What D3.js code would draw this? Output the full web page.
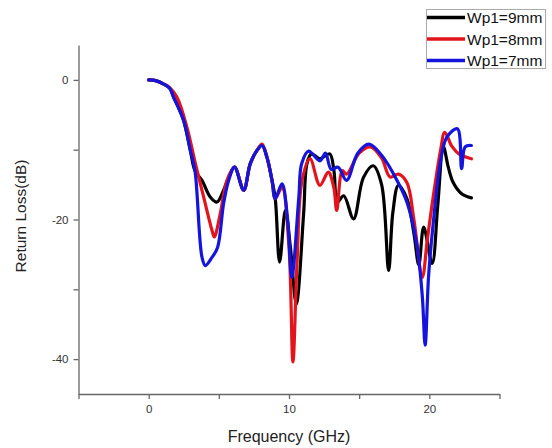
<!DOCTYPE html>
<html>
<head>
<meta charset="utf-8">
<script src="https://cdn.jsdelivr.net/npm/d3@7"></script>
<style>
  body { margin: 0; background: #fff; }
  svg { display: block; }
  text { font-family: "Liberation Sans", Arial, sans-serif; }
</style>
</head>
<body>
<svg id="chart" width="552" height="448"></svg>
<script>
// ---- data ----
const freq9 = [0, 0.5, 1.07, 1.5, 1.78, 2.1, 2.49, 2.97, 3.3, 3.8, 4.4, 4.87, 5.34, 5.7, 6.12, 6.77, 7.24, 7.72, 8.08, 8.43, 8.79, 9.02, 9.33, 9.74, 10.1, 10.52, 11.04, 11.28, 11.6, 12.2, 12.9, 13.2, 13.45, 13.9, 14.6, 15.3, 16.0, 16.6, 17.1, 17.4, 17.8, 18.4, 18.9, 19.25, 19.6, 20.2, 20.6, 21.0, 21.35, 21.7, 22.3, 23.0];
const rl9   = [0, -0.1, -0.6, -1.2, -2.5, -3.8, -5.8, -10.1, -13.0, -14.4, -16.8, -17.5, -15.8, -14.0, -12.5, -15.8, -12.0, -10.1, -9.4, -11.1, -14.4, -17.0, -26.1, -18.7, -24.0, -32.1, -19.2, -12.0, -10.6, -11.3, -10.6, -13.0, -17.5, -16.6, -19.9, -14.0, -12.3, -15.0, -27.3, -19.0, -15.1, -17.0, -22.0, -26.5, -21.1, -26.3, -18.0, -9.6, -12.5, -14.7, -16.3, -16.9];

const freq8 = [0, 0.5, 1.07, 1.5, 2.02, 2.73, 3.33, 3.92, 4.52, 4.68, 5.1, 5.58, 6.12, 6.77, 7.24, 7.72, 8.08, 8.43, 8.79, 9.02, 9.5, 10.0, 10.28, 10.57, 10.93, 11.5, 12.2, 12.8, 13.2, 13.4, 13.8, 14.1, 15.0, 15.8, 16.6, 17.2, 17.8, 18.4, 18.9, 19.5, 19.85, 20.2, 20.8, 21.1, 21.6, 22.1, 23.0];
const rl8   = [0, -0.1, -0.6, -1.1, -2.5, -6.8, -12.0, -16.8, -21.6, -22.5, -19.2, -14.4, -12.5, -15.8, -12.0, -10.1, -9.2, -11.1, -14.4, -17.0, -15.4, -24.0, -40.4, -26.3, -14.4, -11.3, -15.1, -13.2, -15.5, -18.7, -13.0, -13.5, -10.5, -9.6, -11.2, -13.9, -13.5, -14.7, -20.0, -28.3, -23.0, -17.8, -10.1, -7.5, -9.5, -10.6, -11.3];

const freq7 = [0, 0.5, 1.07, 1.5, 1.78, 2.49, 2.97, 3.3, 3.8, 4.04, 4.52, 4.91, 5.34, 5.7, 6.12, 6.77, 7.24, 7.72, 8.08, 8.43, 8.79, 9.02, 9.5, 9.9, 10.2, 10.7, 10.9, 11.4, 12.2, 12.6, 13.0, 13.5, 14.1, 14.9, 15.7, 16.6, 17.7, 18.4, 19.1, 19.5, 19.7, 19.95, 20.3, 20.8, 21.25, 22.0, 22.3, 22.55, 23.0];
const rl7   = [0, -0.1, -0.6, -1.2, -2.5, -5.8, -10.1, -13.0, -25.4, -26.6, -25.4, -24.0, -17.7, -14.4, -12.5, -15.8, -12.0, -10.1, -9.4, -11.1, -14.4, -17.0, -14.9, -20.0, -28.3, -16.8, -12.0, -10.2, -11.6, -10.5, -12.8, -12.5, -14.4, -10.5, -9.2, -10.8, -14.4, -17.5, -23.5, -31.0, -38.0, -28.0, -20.1, -11.6, -8.2, -7.0, -12.7, -9.6, -9.4];

const seriesNames = ["Wp1=9mm", "Wp1=8mm", "Wp1=7mm"];
const seriesColors = ["#000000", "#e3141c", "#1414dc"];
const xTicks = [-5, 0, 5, 10, 15, 20, 25];
const xTickLabels = ["", "0", "", "10", "", "20", ""];
const yTicks = [-40, -30, -20, -10, 0];
const yTickLabels = ["-40", "", "-20", "", "0"];

// ---- layout ----
const svg = d3.select("#chart");
const mLeft = 78.5, mRight = 499.5, mTop = 45, mBottom = 394;

const x = d3.scaleLinear().domain([-5, 25]).range([mLeft, mRight]);
const y = d3.scaleLinear().domain([-45, 5]).range([mBottom, mTop]);

const axisColor = "#666";

// axes
const gx = svg.append("g").attr("transform", `translate(0,${mBottom})`)
  .call(d3.axisBottom(x).tickValues(xTicks)
    .tickFormat((d, i) => xTickLabels[i]).tickSize(5).tickSizeOuter(0).tickPadding(6));
const gy = svg.append("g").attr("transform", `translate(${mLeft},0)`)
  .call(d3.axisLeft(y).tickValues(yTicks)
    .tickFormat((d, i) => yTickLabels[i]).tickSize(5).tickSizeOuter(0).tickPadding(5));

[gx, gy].forEach(g => {
  g.select(".domain").attr("stroke", axisColor).attr("stroke-width", 1.3);
  g.selectAll(".tick line").attr("stroke", axisColor).attr("stroke-width", 1.3);
  g.selectAll(".tick text").attr("fill", "#333").attr("font-size", 11.5)
    .attr("font-family", "'Liberation Sans', Arial, sans-serif");
});

// axis titles
svg.append("text").attr("x", 289).attr("y", 442)
  .attr("text-anchor", "middle").attr("font-size", 16).attr("fill", "#222")
  .text("Frequency (GHz)");
svg.append("text").attr("transform", `translate(26,216) rotate(-90)`)
  .attr("text-anchor", "middle").attr("font-size", 15.5).attr("fill", "#222")
  .text("Return Loss(dB)");

// lines
const series = [
  { f: freq9, v: rl9 },
  { f: freq8, v: rl8 },
  { f: freq7, v: rl7 }
];
const line = d3.line().x(d => x(d[0])).y(d => y(d[1])).curve(d3.curveCatmullRom.alpha(0.5));
series.forEach((s, i) => {
  const pts = s.f.map((f, j) => [f, s.v[j]]);
  svg.append("path").datum(pts)
    .attr("fill", "none").attr("stroke", seriesColors[i])
    .attr("stroke-width", 3.2).attr("stroke-linejoin", "round").attr("stroke-linecap", "round")
    .attr("d", line);
});

// legend
const lg = svg.append("g");
lg.append("rect").attr("x", 426.5).attr("y", 9.5).attr("width", 119).attr("height", 59)
  .attr("fill", "#fff").attr("stroke", "#aaa").attr("stroke-width", 1);
seriesNames.forEach((n, i) => {
  const yy = 17.5 + i * 21.5;
  lg.append("line").attr("x1", 427).attr("x2", 465).attr("y1", yy).attr("y2", yy)
    .attr("stroke", seriesColors[i]).attr("stroke-width", 3.5);
  lg.append("text").attr("x", 467).attr("y", yy + 5.5).attr("font-size", 15.5)
    .attr("fill", "#111").text(n);
});
</script>
</body>
</html>
